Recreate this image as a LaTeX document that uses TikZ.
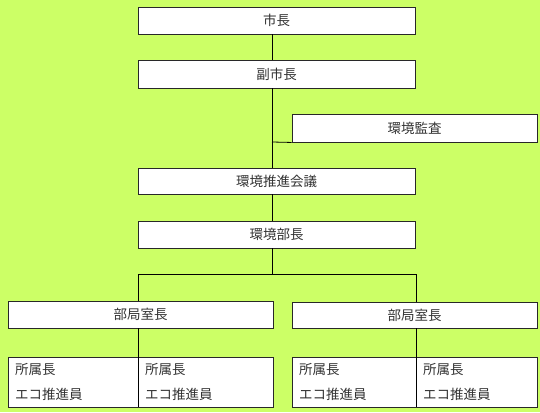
\documentclass[tikz,border=0pt]{standalone}
\usepackage{fontspec}
\newfontfamily\jp{Noto Sans CJK JP}
\definecolor{bg}{RGB}{204,255,102}
\definecolor{edge}{RGB}{40,40,40}
\definecolor{ink}{RGB}{50,50,50}
\begin{document}
\begin{tikzpicture}[x=1pt,y=-1pt,
  box/.style={draw=edge,line width=0.9pt,fill=white,rectangle,inner sep=0pt,text=ink,
    font=\jp\fontsize{13.5}{15}\selectfont},
  cell/.style={draw=edge,line width=0.9pt,fill=white,rectangle,inner sep=0pt,text=ink,
    font=\jp\fontsize{13.5}{25}\selectfont,align=left},
  link/.style={draw=black,line width=0.8pt}]
\fill[bg] (0,0) rectangle (540,412);
\useasboundingbox (0,0) rectangle (540,412);
\coordinate (sp) at (272,0);
\coordinate (bl) at (138,0);
\coordinate (br) at (416,0);
\coordinate (tj) at (0,274);
\coordinate (kj) at (0,142);

\node[box,minimum width=277pt,minimum height=27pt] (shicho) at (276.5,20.5) {市長};
\node[box,minimum width=277pt,minimum height=28pt] (fuku) at (276.5,74) {副市長};
\node[box,minimum width=245pt,minimum height=28pt] (kansa) at (414.5,128) {環境監査};
\node[box,minimum width=277pt,minimum height=26pt] (kaigi) at (276.5,181) {環境推進会議};
\node[box,minimum width=277pt,minimum height=27pt] (bucho) at (276.5,234.5) {環境部長};
\node[box,minimum width=265pt,minimum height=27pt] (bkL) at (140.5,314.5) {部局室長};
\node[box,minimum width=245pt,minimum height=26pt] (bkR) at (414.5,315) {部局室長};

\node[cell,minimum width=130pt,minimum height=50pt,text width=116pt] (c1) at (73,382) {所属長\\エコ推進員};
\node[cell,minimum width=135pt,minimum height=50pt,text width=121pt] (c2) at (205.5,382) {所属長\\エコ推進員};
\node[cell,minimum width=124pt,minimum height=50pt,text width=110pt] (c3) at (354,382) {所属長\\エコ推進員};
\node[cell,minimum width=121pt,minimum height=50pt,text width=107pt] (c4) at (476.5,382) {所属長\\エコ推進員};

\draw[link] (shicho.south -| sp) -- (fuku.north -| sp);
\draw[link] (fuku.south -| sp) -- (kaigi.north -| sp);
\draw[link] (kj -| sp) -- (kansa.south west);
\draw[link] (kaigi.south -| sp) -- (bucho.north -| sp);
\draw[link] (bucho.south -| sp) -- (tj -| sp);
\draw[link] (bkL.north -| bl) -- (tj -| bl) -- (tj -| br) -- (bkR.north -| br);
\draw[link] (bkL.south -| bl) -- (c1.south -| bl);
\draw[link] (bkR.south -| br) -- (c3.south -| br);
\end{tikzpicture}
\end{document}
